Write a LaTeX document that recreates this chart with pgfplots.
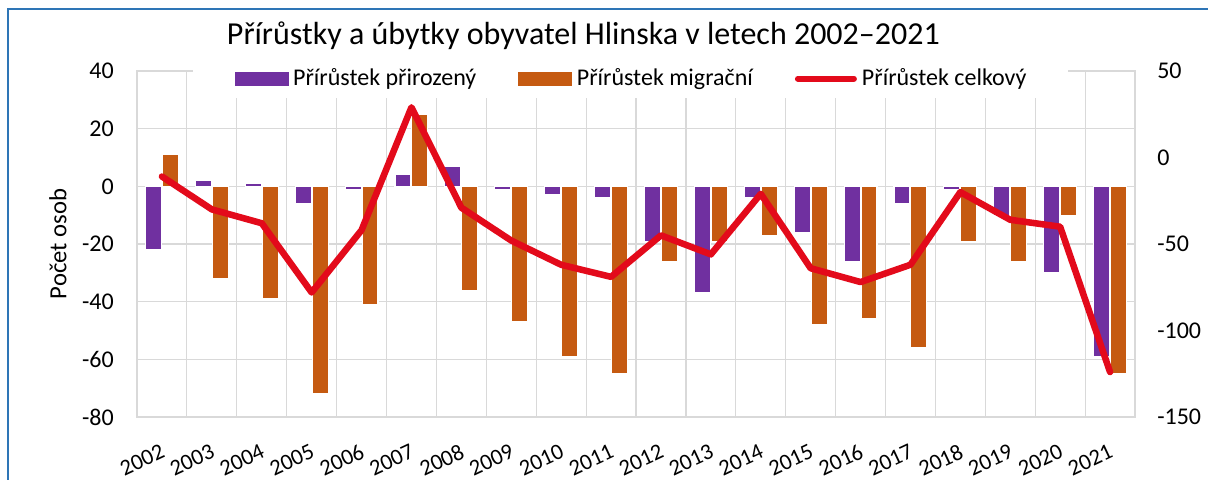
\documentclass[border=0pt]{standalone}
\usepackage{pgfplots}
\pgfplotsset{compat=1.18}
\usepackage{pgfplotstable}
\usepackage{fontspec}
\setmainfont{Carlito}
\definecolor{barpurple}{HTML}{7030A0}
\definecolor{barorange}{HTML}{C55A11}
\definecolor{linered}{HTML}{E30A1B}
\definecolor{gridgray}{HTML}{D9D9D9}
\definecolor{framecol}{HTML}{2E75B6}
\newcommand{\tickfont}{\fontsize{18}{21}\selectfont}

\pgfplotstableread{
x nat mig tot
0 -22 11 -11
1 2 -32 -30
2 1 -39 -38
3 -6 -72 -78
4 -1 -41 -42
5 4 25 29
6 7 -36 -29
7 -1 -47 -48
8 -3 -59 -62
9 -4 -65 -69
10 -19 -26 -45
11 -37 -19 -56
12 -4 -17 -21
13 -16 -48 -64
14 -26 -46 -72
15 -6 -56 -62
16 -1 -19 -20
17 -10 -26 -36
18 -30 -10 -40
19 -59 -65 -124
}\datatable

\begin{document}
\begin{tikzpicture}
\useasboundingbox (0,0) rectangle (906pt,-359.25pt);
\fill[white] (0,0) rectangle (906pt,-359.25pt);
\draw[framecol, line width=1.1pt] (6pt,-380pt) -- (6pt,-6.75pt) -- (920pt,-6.75pt);
\node[anchor=base, font=\fontsize{24}{28}\selectfont, inner sep=0pt] at (437.5pt,-33.2pt) {Přírůstky a úbytky obyvatel Hlinska v letech 2002–2021};

\begin{axis}[
  at={(102.75pt,-312.75pt)}, anchor=south west,
  scale only axis, width=748.5pt, height=259.5pt,
  xmin=-0.5, xmax=19.5, ymin=-80, ymax=40,
  xtick={0,...,19},
  xticklabels={2002,2003,2004,2005,2006,2007,2008,2009,2010,2011,2012,2013,2014,2015,2016,2017,2018,2019,2020,2021},
  minor xtick={-0.5,0.5,...,19.5},
  xminorgrids, ymajorgrids,
  major grid style={gridgray, line width=0.9pt},
  minor grid style={gridgray, line width=0.9pt},
  axis line style={gridgray, line width=0.9pt},
  major tick length=0pt, minor tick length=0pt,
  ytick={-80,-60,...,40},
  /pgf/number format/assume math mode=true,
  yticklabel style={font=\tickfont, inner sep=0pt, xshift=-17.25pt},
  xticklabel style={font=\fontsize{17}{20}\selectfont, inner sep=0pt, anchor=north east, yshift=-19.5pt, xshift=-1.5pt, rotate=25},
  ylabel={Počet osob},
  ylabel style={font=\fontsize{18.5}{22}\selectfont, at={(axis description cs:-0.0792,0.5)}, anchor=center},
]
\addplot[ybar, bar width=0.32, bar shift=-0.17, fill=barpurple, draw=white, line width=0.8pt] table[x=x,y=nat]{\datatable};
\addplot[ybar, bar width=0.32, bar shift=0.17, fill=barorange, draw=white, line width=0.8pt] table[x=x,y=mig]{\datatable};
\end{axis}

\begin{axis}[
  at={(102.75pt,-312.75pt)}, anchor=south west,
  scale only axis, width=748.5pt, height=259.5pt,
  xmin=-0.5, xmax=19.5, ymin=-150, ymax=50,
  axis x line=none, axis y line*=right,
  y axis line style={draw=none},
  ytick={-150,-100,...,50},
  major tick length=0pt,
  /pgf/number format/assume math mode=true,
  yticklabel style={font=\tickfont, inner sep=0pt, xshift=16.5pt},
  legend columns=3,
  legend style={at={(0.4945,0.922)}, anchor=south, draw=none, fill=white,
    font=\tickfont, inner xsep=31pt, inner ysep=7.5pt,
    nodes={inner sep=0pt},
    cells={anchor=base west},
    /tikz/every odd column/.append style={column sep=3.8pt},
    /tikz/every even column/.append style={column sep=31.5pt}},
]
\addlegendimage{legend image code/.code={\fill[barpurple] (0pt,0pt) rectangle (39.75pt,9.75pt);}}
\addlegendentry{Přírůstek přirozený}
\addlegendimage{legend image code/.code={\fill[barorange] (0pt,0pt) rectangle (39.75pt,9.75pt);}}
\addlegendentry{Přírůstek migrační}
\addplot[linered, line width=4.9pt, line cap=round, line join=round, mark=none,
  legend image code/.code={\draw[linered, line width=4.5pt, line cap=round] (0pt,5.25pt) -- (42pt,5.25pt);}]
  table[x=x,y=tot]{\datatable};
\addlegendentry{Přírůstek celkový}
\end{axis}
\end{tikzpicture}
\end{document}
